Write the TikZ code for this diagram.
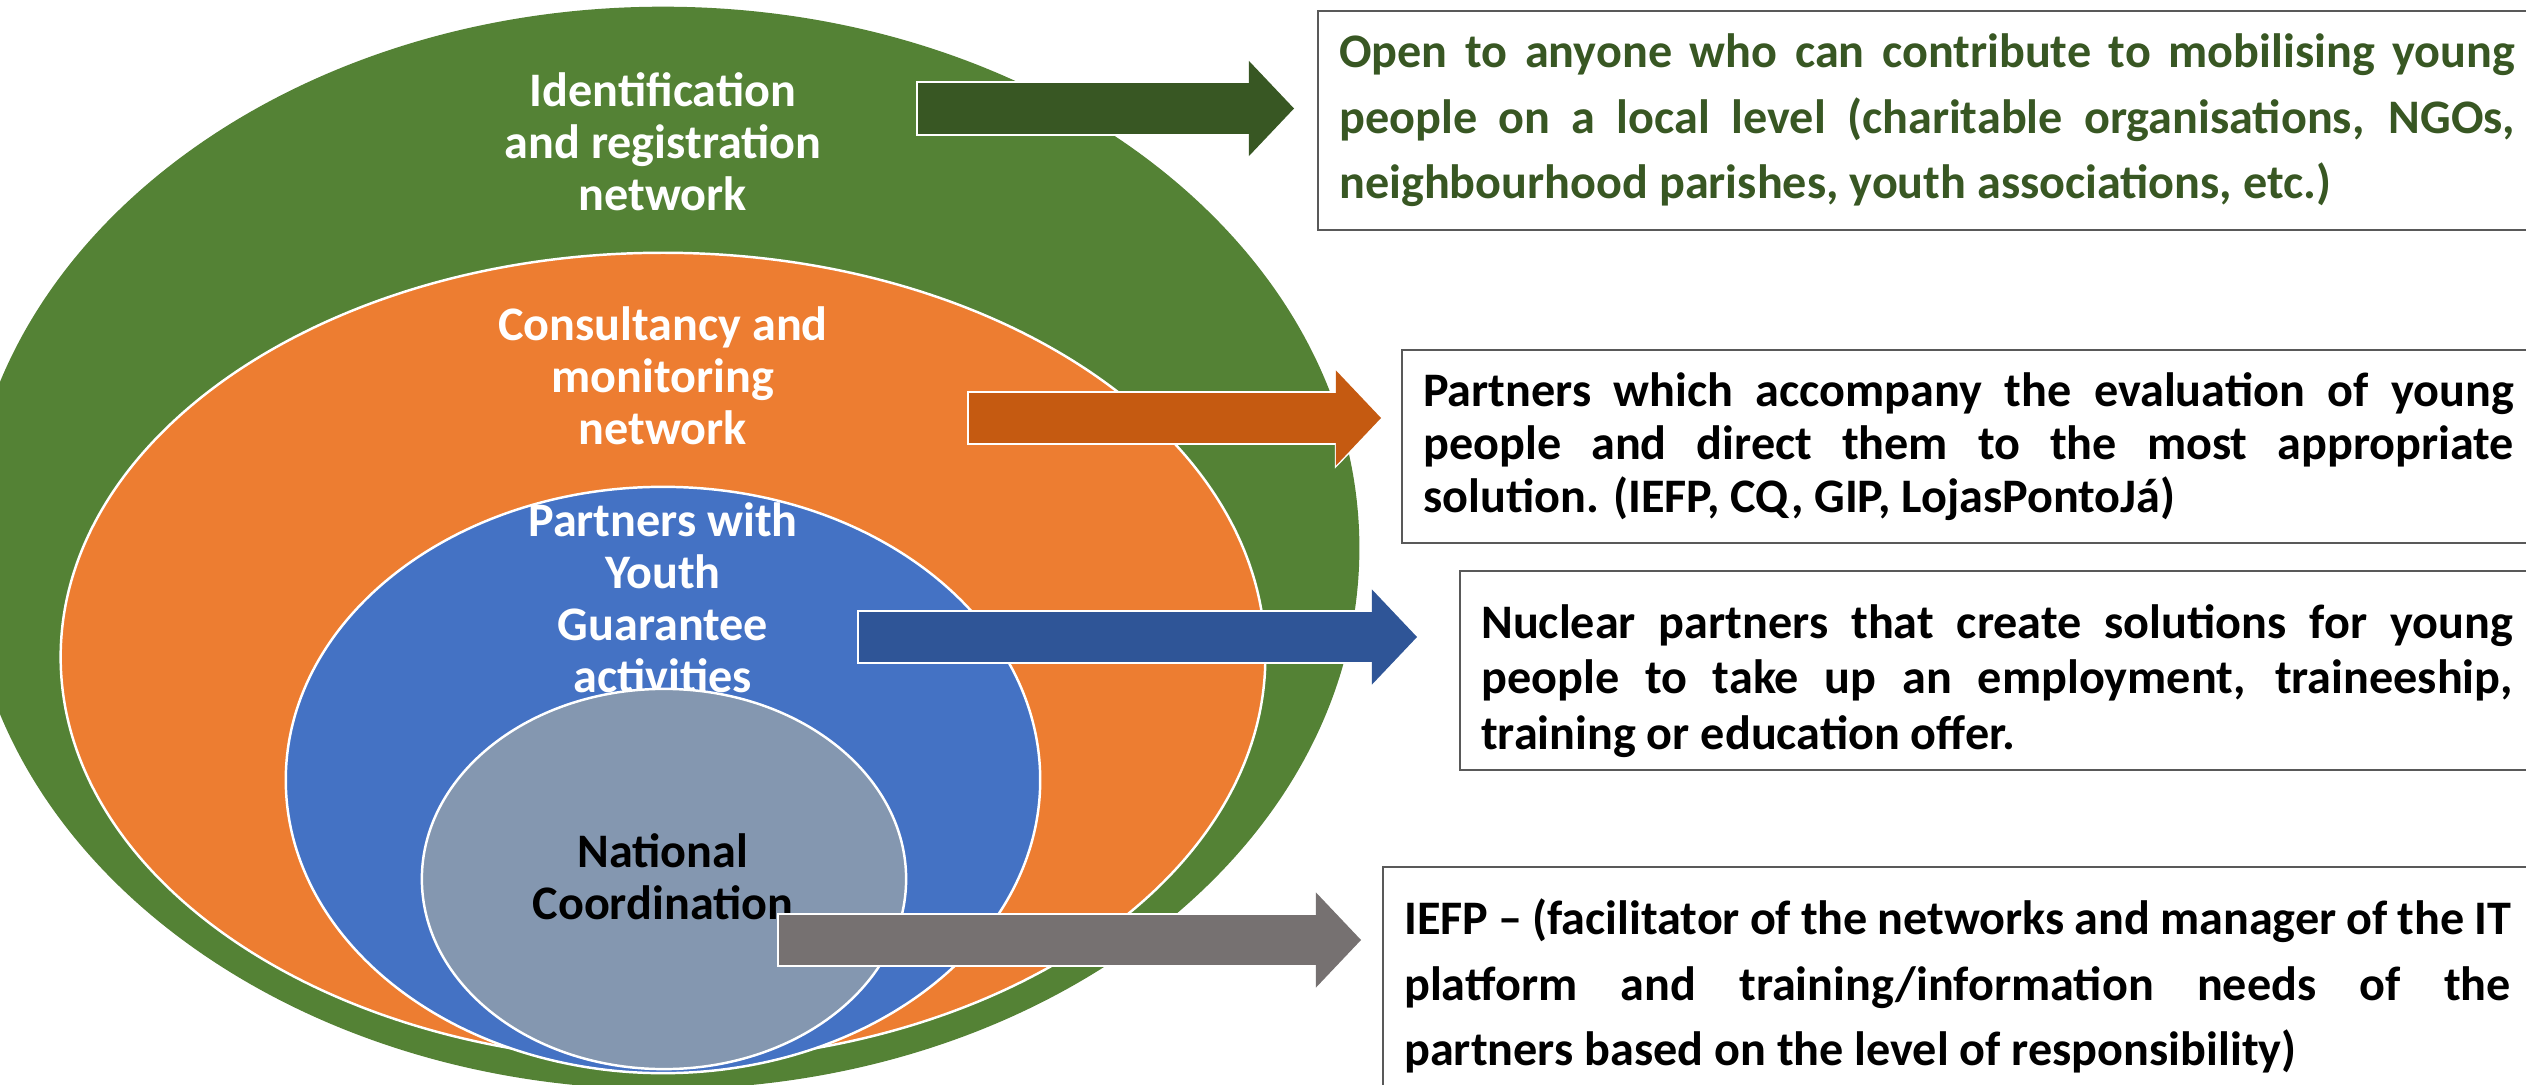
\documentclass[tikz,border=0pt]{standalone}
\usepackage{fontspec}
\setmainfont{Carlito}
\usetikzlibrary{shapes.geometric,arrows.meta,positioning}

\definecolor{ringgreen}{HTML}{548235}
\definecolor{ringorange}{HTML}{ED7D31}
\definecolor{ringblue}{HTML}{4472C4}
\definecolor{ringgray}{HTML}{8497B0}
\definecolor{arrgreen}{HTML}{385723}
\definecolor{arrorange}{HTML}{C55A11}
\definecolor{arrblue}{HTML}{2F5597}
\definecolor{arrgray}{HTML}{767171}

\tikzset{
  ring/.style={ellipse,draw=white,line width=0.7pt,inner sep=0pt},
  ringlabel/.style={align=center,text=white,font=\fontsize{13.7}{14.8}\selectfont\bfseries},
  infobox/.style={draw=black!65,line width=0.7pt,anchor=west,align=justify,inner xsep=0.21cm,
    execute at begin node={\hyphenpenalty=10000\exhyphenpenalty=10000}},
  blockarrow/.style={draw=#1,line width=0.5cm,
    -{Triangle[width=0.95cm,length=0.45cm,line width=0pt]},
    preaction={draw=white,line width=0.54cm,shorten <=-0.02cm,shorten >=-0.03cm,
      -{Triangle[width=1.01cm,length=0.49cm,line width=0pt]}}}
}

\begin{document}
\begin{tikzpicture}[x=0.01cm,y=-0.01cm]
\useasboundingbox (0,0) rectangle (2526,1085);

% nested networks
\node[ring,draw=none,fill=ringgreen,minimum width=13.92cm,minimum height=10.82cm](ident) at (663,548){};
\node[ring,fill=ringorange,minimum width=12.04cm,minimum height=8.08cm](consult) at (663,657){};
\node[ring,fill=ringblue,minimum width=7.54cm,minimum height=5.86cm](partners) at (663,780){};

\node[ringlabel](identlbl) at (663,142){Identification\\and registration\\network};
\node[ringlabel](consultlbl) at (663,376){Consultancy and\\monitoring\\network};
\node[ringlabel](partnerslbl) at (663,598){Partners with\\Youth\\Guarantee\\activities};

\node[ring,fill=ringgray,minimum width=4.84cm,minimum height=3.80cm](natcoord) at (664,879){};
\node[ringlabel,text=black](natlbl) at (663,877){National\\Coordination};

% arrows
\coordinate (identfrom) at (918,108.5);
\coordinate (identto) at (1294,108.5);
\coordinate (consultfrom) at (969,418);
\coordinate (consultto) at (1381,418);
\coordinate (partnersfrom) at (859,637);
\coordinate (partnersto) at (1417,637);
\coordinate (natfrom) at (779,940);
\coordinate (natto) at (1361,940);
\draw[blockarrow=arrgreen] (identfrom) -- (identto);
\draw[blockarrow=arrorange] (consultfrom) -- (consultto);
\draw[blockarrow=arrblue] (partnersfrom) -- (partnersto);
\draw[blockarrow=arrgray] (natfrom) -- (natto);

% descriptions
\node[infobox,text=arrgreen,text width=11.75cm,minimum height=2.19cm,
  font=\fontsize{13.7}{18.6}\selectfont\bfseries](openbox) at (1317,120.5)
  {Open to anyone who can contribute to mobilising young\linebreak people on a local level (charitable organisations, NGOs,\linebreak neighbourhood parishes, youth associations, etc.)};
\node[infobox,text width=10.90cm,minimum height=1.93cm,
  font=\fontsize{13.7}{15.1}\selectfont\bfseries](evalbox) at (1401,446.5)
  {Partners which accompany the evaluation of young\linebreak people and direct them to the most appropriate\linebreak solution. (IEFP, CQ, GIP, LojasPontoJá)};
\node[infobox,text width=10.31cm,minimum height=1.93cm,
  font=\fontsize{13.7}{15.9}\selectfont\bfseries](nuclearbox) at (1459,670.5)
  {\rule{0pt}{0.55cm}Nuclear partners that create solutions for young\linebreak people to take up an employment, traineeship,\linebreak training or education offer.};
\node[infobox,text width=11.06cm,minimum height=2.38cm,
  font=\fontsize{13.7}{18.7}\selectfont\bfseries](iefpbox) at (1382,986)
  {IEFP -- (facilitator of the networks and manager of the IT\linebreak platform and training/information needs of the\linebreak partners based on the level of responsibility)};
\end{tikzpicture}
\end{document}
